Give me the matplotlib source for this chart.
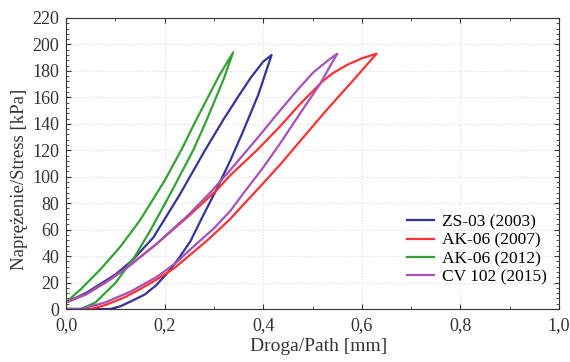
"""
Hysteresis loops: stress vs path for four samples.
"""
import matplotlib
matplotlib.use("Agg")
import matplotlib.pyplot as plt
from matplotlib.ticker import MultipleLocator, FuncFormatter

plt.rcParams["font.family"] = ["Liberation Serif", "DejaVu Serif"]

LABELS = ["ZS-03 (2003)", "AK-06 (2007)", "AK-06 (2012)", "CV 102 (2015)"]
COLORS = ["#33339c", "#ff3030", "#34a134", "#a452b8"]

# loading branch (lower)
ZS_LOAD_X = [0.0, 0.09, 0.11, 0.13, 0.16, 0.183, 0.21, 0.23, 0.252, 0.28, 0.302, 0.333, 0.36, 0.39, 0.417]
ZS_LOAD_Y = [0, 0, 2, 5.5, 11, 18, 29, 39, 51, 72, 88, 112, 135, 162, 192]
AK07_LOAD_X = [0.0, 0.05, 0.08, 0.12, 0.15, 0.183, 0.22, 0.252, 0.29, 0.333, 0.36, 0.39, 0.434, 0.475, 0.53, 0.59, 0.63]
AK07_LOAD_Y = [0, 0, 3, 9, 15, 22, 31, 41, 53, 68, 79, 91, 109, 127, 151, 176, 193]
AK12_LOAD_X = [0.0, 0.03, 0.06, 0.101, 0.14, 0.172, 0.21, 0.258, 0.282, 0.30, 0.32, 0.339]
AK12_LOAD_Y = [0, 0, 5, 20, 40, 60, 86, 120, 140, 156, 174, 194]
CV_LOAD_X = [0.0, 0.03, 0.08, 0.13, 0.183, 0.22, 0.252, 0.30, 0.333, 0.363, 0.40, 0.434, 0.475, 0.515, 0.55]
CV_LOAD_Y = [0, 0, 5, 13, 24, 34, 45, 61, 74, 89, 107, 125, 148, 170, 193]

# unloading branch (upper), from peak back to x = 0
ZS_UNL_X = [0.417, 0.40, 0.375, 0.35, 0.319, 0.282, 0.23, 0.177, 0.135, 0.10, 0.07, 0.04, 0.0]
ZS_UNL_Y = [192, 187, 175, 161, 143, 120, 86, 54, 37, 26, 19, 12, 5]
AK07_UNL_X = [0.63, 0.60, 0.57, 0.54, 0.52, 0.475, 0.434, 0.39, 0.333, 0.306, 0.248, 0.183, 0.123, 0.08, 0.04, 0.0]
AK07_UNL_Y = [193, 189.5, 184.5, 178, 172, 155, 138, 121, 101, 90, 70, 49, 31, 20, 11, 5]
AK12_UNL_X = [0.339, 0.31, 0.285, 0.26, 0.235, 0.20, 0.15, 0.11, 0.07, 0.03, 0.0]
AK12_UNL_Y = [194, 176, 158, 140, 121, 97, 67, 47, 30, 15, 5]
CV_UNL_X = [0.55, 0.53, 0.502, 0.475, 0.434, 0.39, 0.333, 0.295, 0.248, 0.183, 0.123, 0.08, 0.04, 0.0]
CV_UNL_Y = [193, 187.5, 179, 168, 150, 130, 105, 89, 71, 49, 31, 20, 11, 5]

LOADS = [(ZS_LOAD_X, ZS_LOAD_Y), (AK07_LOAD_X, AK07_LOAD_Y),
         (AK12_LOAD_X, AK12_LOAD_Y), (CV_LOAD_X, CV_LOAD_Y)]
UNLOADS = [(ZS_UNL_X, ZS_UNL_Y), (AK07_UNL_X, AK07_UNL_Y),
           (AK12_UNL_X, AK12_UNL_Y), (CV_UNL_X, CV_UNL_Y)]

fig = plt.figure(figsize=(5.7, 3.62), dpi=100)
ax = fig.add_axes([0.1158, 0.1464, 0.8649, 0.8039])

for (lx, ly), (ux, uy), lab, col in zip(LOADS, UNLOADS, LABELS, COLORS):
    ax.plot(lx + ux[1:], ly + uy[1:], color=col, linewidth=1.6, label=lab,
            solid_joinstyle="round")

ax.set_xlim(0, 1.0)
ax.set_ylim(0, 220)
ax.xaxis.set_major_locator(MultipleLocator(0.2))
ax.xaxis.set_minor_locator(MultipleLocator(0.1))
ax.yaxis.set_major_locator(MultipleLocator(20))
ax.yaxis.set_minor_locator(MultipleLocator(4))
ax.xaxis.set_major_formatter(FuncFormatter(lambda v, _: f"{v:.1f}".replace(".", ",")))
ax.tick_params(which="both", direction="in", top=True, right=True, colors="#333333",
               labelcolor="#333333")
ax.tick_params(which="major", length=3.5, labelsize=13)
ax.tick_params(axis="x", which="major", pad=6)
ax.tick_params(axis="y", which="major", pad=5)
ax.tick_params(which="minor", length=2)
ax.grid(which="major", color="#dddddd", linestyle=":", linewidth=0.8)
for s in ax.spines.values():
    s.set_color("#333333")

ax.set_xlabel("Droga/Path [mm]", fontsize=14, color="#333333")
ax.set_ylabel("Naprężenie/Stress [kPa]", fontsize=13.5, color="#333333")
ax.xaxis.set_label_coords(0.512, -0.10)
ax.yaxis.set_label_coords(-0.077, 0.447)

ax.legend(loc="lower right", bbox_to_anchor=(0.99, 0.058), borderaxespad=0,
          frameon=False, fontsize=12.5, handlelength=1.55, labelspacing=0.12,
          handletextpad=0.46)

fig.savefig("out.png", dpi=100)
